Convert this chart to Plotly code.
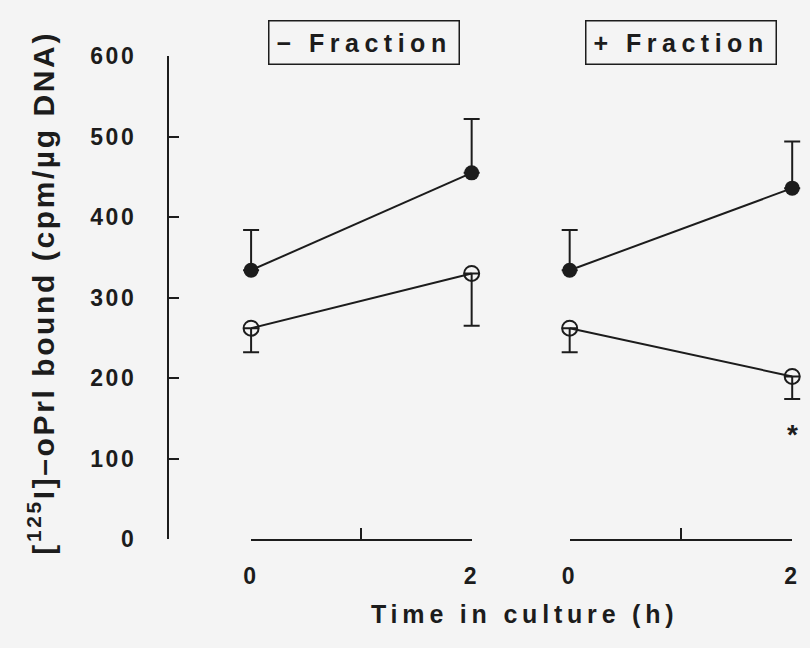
import plotly.graph_objects as go

# Time points (h) and binding data for each culture condition
times = [0, 2]
x_tick_vals = [0, 2]
x_tick_text = ["0", "2"]
x_minor_ticks = [1]

minus_filled = [334, 455]
minus_filled_err = [50, 67]
minus_open = [262, 330]
minus_open_err = [30, 65]

plus_filled = [334, 436]
plus_filled_err = [50, 58]
plus_open = [262, 202]
plus_open_err = [30, 28]

y_ticks = [0, 100, 200, 300, 400, 500, 600]
panel_titles = ["\u2212 Fraction", "+ Fraction"]
star_value = 138

W, H = 810, 648
FONT = "Liberation Sans"
WEIGHT = "bold"
INK = "#1c1c1c"
X_PAD = 0.08  # extra data-axis room so error-bar caps at the ends are not clipped


def spaced(text, px):
    return f"<span style='letter-spacing:{px}px'>{text}</span>"


def fx(p):
    return p / W


def fy(p):
    return 1 - p / H


# pixel extents of the two time axes and of the value axis
panels = [(248, 473), (573, 800)]
y_top, y_bottom = 45, 548

fig = go.Figure()


def add_panel(xref, filled, filled_err, opened, opened_err):
    fig.add_trace(go.Scatter(
        x=times, y=filled, xaxis=xref, yaxis="y", mode="lines+markers",
        line=dict(color=INK, width=2),
        marker=dict(symbol="circle", size=15, color=INK),
        error_y=dict(type="data", symmetric=False, array=filled_err,
                     arrayminus=[0, 0], color=INK, thickness=2, width=8),
        cliponaxis=False, showlegend=False, hoverinfo="skip"))
    fig.add_trace(go.Scatter(
        x=times, y=opened, xaxis=xref, yaxis="y", mode="lines+markers",
        line=dict(color=INK, width=2),
        marker=dict(symbol="circle-open", size=15, color=INK,
                    line=dict(width=2, color=INK)),
        error_y=dict(type="data", symmetric=False, array=[0, 0],
                     arrayminus=opened_err, color=INK, thickness=2, width=8),
        cliponaxis=False, showlegend=False, hoverinfo="skip"))


add_panel("x", minus_filled, minus_filled_err, minus_open, minus_open_err)
add_panel("x2", plus_filled, plus_filled_err, plus_open, plus_open_err)

# empty traces so the two framing time axes get drawn
for frame_ref in ["x3", "x4"]:
    fig.add_trace(go.Scatter(x=[], y=[], xaxis=frame_ref, yaxis="y",
                             showlegend=False, hoverinfo="skip"))

layout_axes = {}
for i, (a, b) in enumerate(panels):
    pad = (b - a) * X_PAD / 2
    # data axis: slightly wider range, hidden
    layout_axes["xaxis" if i == 0 else "xaxis2"] = dict(
        domain=[fx(a - pad), fx(b + pad)], range=[-X_PAD, 2 + X_PAD],
        visible=False, anchor="y", fixedrange=True)
    # frame axis: exactly 0..2 with line, ticks and labels
    layout_axes["xaxis3" if i == 0 else "xaxis4"] = dict(
        domain=[fx(a), fx(b)], range=[0, 2], anchor="y",
        tickvals=x_tick_vals, ticktext=[spaced(t, 3) for t in x_tick_text],
        minor=dict(tickvals=x_minor_ticks, ticks="inside", ticklen=11,
                   tickwidth=2, tickcolor=INK, showgrid=False),
        showline=True, linecolor=INK, linewidth=2,
        ticks="inside", ticklen=11, tickwidth=2, tickcolor=INK,
        showgrid=False, zeroline=False,
        tickfont=dict(family=FONT, size=23, color=INK, weight=WEIGHT),
        ticklabelstandoff=15, fixedrange=True)

fig.update_layout(
    width=W, height=H,
    margin=dict(l=0, r=0, t=0, b=0),
    paper_bgcolor="#f4f4f4", plot_bgcolor="rgba(0,0,0,0)",
    yaxis=dict(
        domain=[fy(y_bottom), fy(y_top)], range=[0, 600],
        tickvals=y_ticks, ticktext=[spaced(v, 2.5) for v in y_ticks],
        anchor="free", position=fx(163),
        showline=True, linecolor=INK, linewidth=2,
        ticks="inside", ticklen=10, tickwidth=2, tickcolor=INK,
        showgrid=False, zeroline=False,
        tickfont=dict(family=FONT, size=23, color=INK, weight=WEIGHT),
        ticklabelstandoff=26, fixedrange=True),
    **layout_axes,
)

# Panel headings in boxes
for title, cx in zip(panel_titles, [363, 687]):
    fig.add_annotation(
        text=spaced(title, 5.5), xref="paper", yref="paper",
        x=fx(cx), y=fy(31), xanchor="center", yanchor="middle",
        showarrow=False,
        font=dict(family=FONT, size=25, color=INK, weight=WEIGHT),
        bordercolor=INK, borderwidth=1.5, borderpad=7,
        bgcolor="rgba(0,0,0,0)")

# Significance marker under the last open point
fig.add_annotation(text="*", xref="x2", yref="y", x=2, y=star_value,
                   showarrow=False, yshift=-7,
                   font=dict(family=FONT, size=28, color=INK, weight="bold"),
                   xanchor="center", yanchor="middle")

# Axis titles
fig.add_annotation(
    text=spaced("Time in culture (h)", 4.8), xref="paper", yref="paper",
    x=fx(527), y=fy(626), showarrow=False, xanchor="center",
    yanchor="middle",
    font=dict(family=FONT, size=25, color=INK, weight=WEIGHT))
fig.add_annotation(
    text=spaced("[<sup>125</sup>I]\u2013oPrl bound (cpm/\u00b5g DNA)", 2.6),
    xref="paper", yref="paper", x=fx(34), y=fy(291), showarrow=False,
    textangle=-90, xanchor="center", yanchor="middle",
    font=dict(family=FONT, size=30, color=INK, weight=WEIGHT))

fig.write_html("out.html")
